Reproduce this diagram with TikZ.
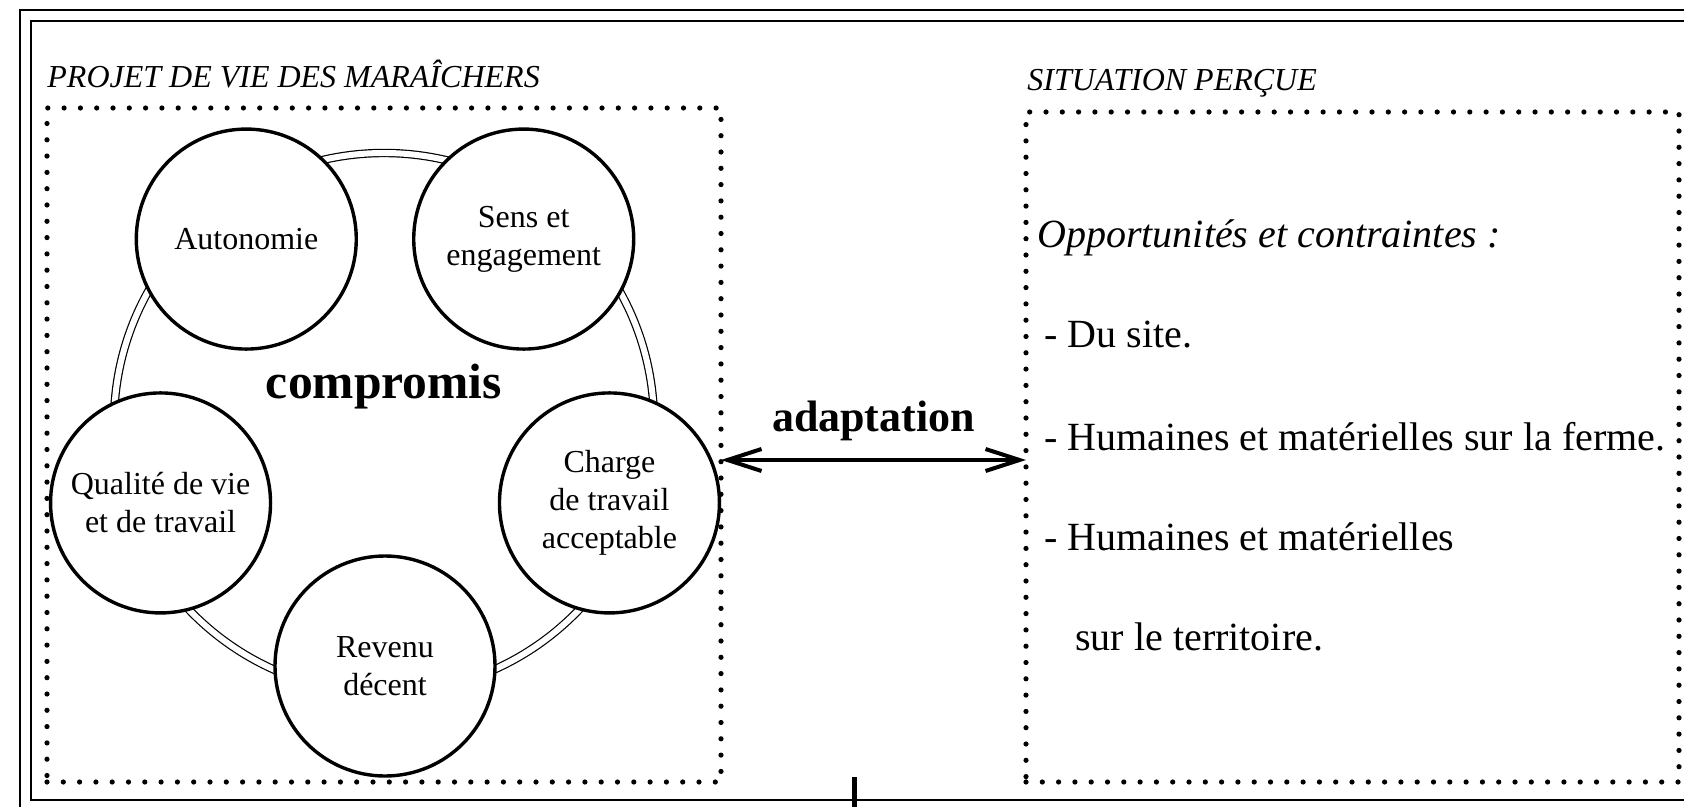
\documentclass[tikz,border=0pt]{standalone}
\usepackage{fontspec}
\setmainfont{Liberation Serif}
\usetikzlibrary{arrows.meta,positioning}

\tikzset{
	pointille/.style={draw, line width=2.6pt, dash pattern=on 0pt off 8.15pt, line cap=round, inner sep=0pt, outer sep=0pt},
	pole/.style={circle, draw, line width=1.7pt, fill=white, minimum size=110pt, inner sep=0pt, align=center, font=\fontsize{16}{19}\selectfont},
	anneau/.style={double, double distance=3pt, line width=0.6pt},
	titre/.style={anchor=base west, inner sep=0pt, font=\fontsize{16}{19}\selectfont\itshape},
	ligne/.style={anchor=base west, inner sep=0pt, font=\fontsize{20}{24}\selectfont},
	adapt/.style={line width=2pt, {Straight Barb[length=17pt,width=11pt]}-{Straight Barb[length=17pt,width=11pt]}}
}

\begin{document}
\begin{tikzpicture}[x=0.5pt,y=-0.5pt]
	\useasboundingbox (0,0) rectangle (1684,807);
	\clip (0,0) rectangle (1684,807);
	%frame
	\draw[line width=1.1pt] (20,10) rectangle (1700,812);
	\draw[line width=1.4pt] (31,21) rectangle (1690,800);
	%dotted boxes
	\node[pointille, minimum width=337pt, minimum height=337pt] (projet) at (384,445) {};
	\node[pointille, minimum width=326.5pt, minimum height=335pt] (situation) at (1352.5,447) {};
	\node[titre] (titre projet) at (47,88) {PROJET DE VIE DES MARAÎCHERS};
	\node[titre] (titre situation) at (1027,91) {SITUATION PERÇUE};
	%ring of the five poles
	\coordinate (ctr) at (385,430);
	\draw[anneau] (384,423) circle (270);
	\foreach \ang/\nom/\txt in {234/autonomie/Autonomie, 306/sens/Sens et\\engagement, 18/charge/Charge\\de travail\\acceptable, 90/revenu/Revenu\\décent, 162/qualite/Qualité de vie\\et de travail}
	\path (ctr) ++(\ang:236) node[pole] (\nom) {\txt};
	\node[anchor=base, inner sep=0pt, font=\fontsize{24.8}{28}\selectfont\bfseries] (compromis) at (384,398) {compromis};
	%adaptation arrow
	\coordinate (fleche) at (0,460);
	\draw[adapt] (projet.east |- fleche) -- node[above=5pt, font=\fontsize{22}{26}\selectfont\bfseries] (adaptation) {adaptation} (situation.west |- fleche);
	%perceived situation
	\node[ligne, font=\fontsize{20}{24}\selectfont\itshape] (opp) at (1037,248) {Opportunités et contraintes :};
	\node[ligne] (site) at (1044,348) {- Du site.};
	\node[ligne] (ferme) at (1044,450) {- Humaines et matérielles sur la ferme.};
	\node[ligne] (territoire) at (1044,550) {- Humaines et matérielles};
	\node[ligne] (territoire suite) at (1075,650) {sur le territoire.};
	%link down
	\coordinate (depart) at (854,777);
	\coordinate (arrivee) at (854,830);
	\draw[line width=2.5pt] (depart) -- (arrivee);
\end{tikzpicture}
\end{document}
